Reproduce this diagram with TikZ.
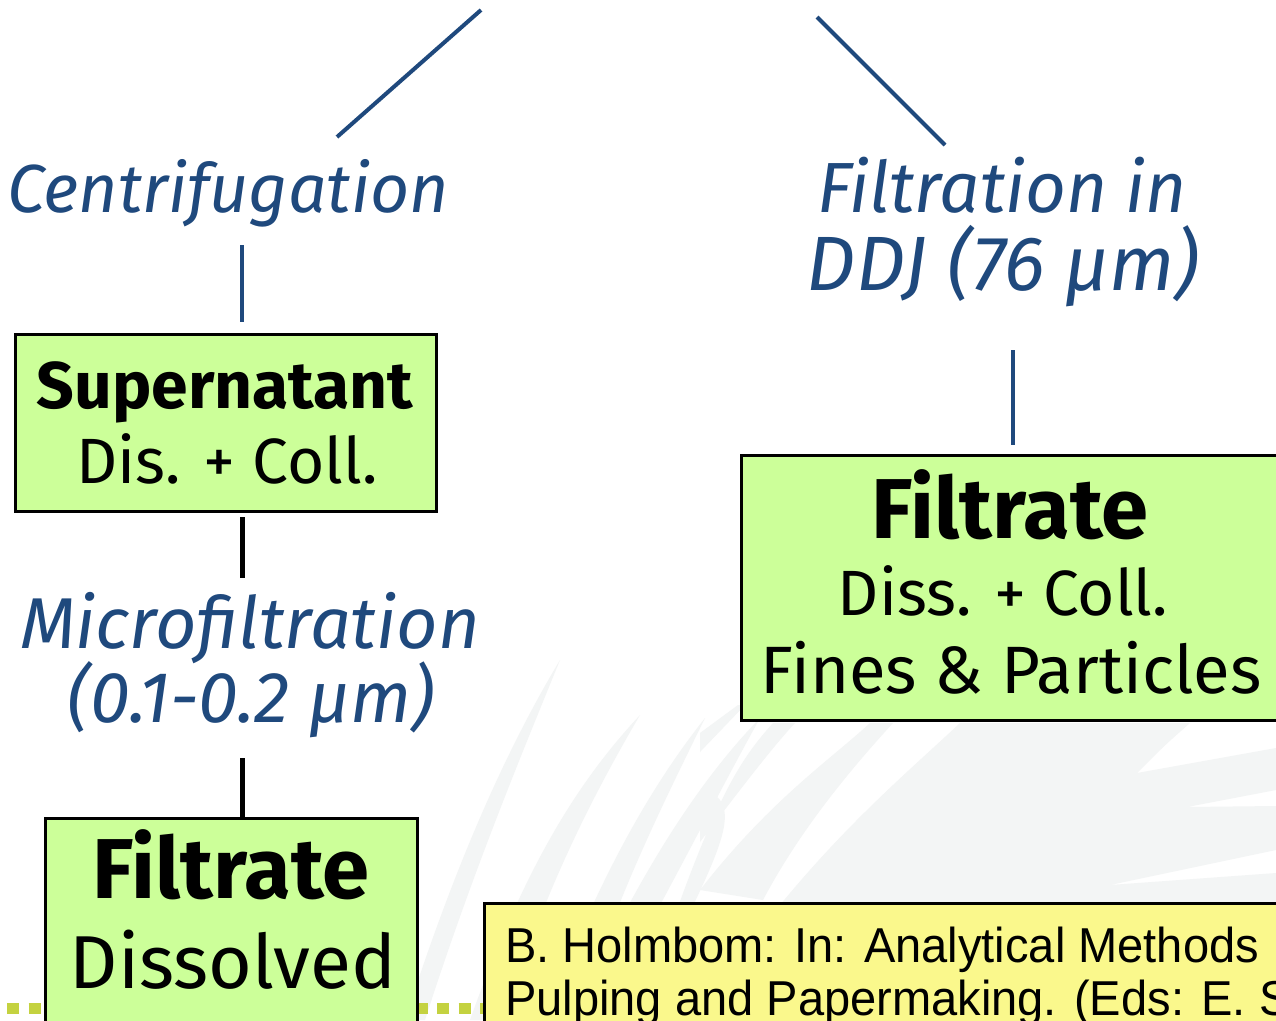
\documentclass[tikz,border=0pt]{standalone}
\usepackage{fontspec}
\setmainfont{Fira Sans}
\newfontfamily\reffont[FakeStretch=0.96]{Liberation Sans}
\definecolor{lblue}{RGB}{31,73,125}
\definecolor{boxgreen}{RGB}{204,255,153}
\definecolor{refyellow}{RGB}{250,248,140}
\definecolor{dotgreen}{RGB}{196,210,64}
\definecolor{bgblade}{RGB}{243,245,245}
\begin{document}
\begin{tikzpicture}[x=1pt,y=-1pt,
  conn/.style={line width=5pt, black},
  bconn/.style={line width=4pt, lblue},
  lbl/.style={font=\fontsize{68}{72}\selectfont\itshape, text=lblue, anchor=base, inner sep=0pt},
  boxg/.style={draw=black, line width=3pt, fill=boxgreen, inner sep=0pt},
  btext/.style={anchor=base, inner sep=0pt, font=\fontsize{64}{70}\selectfont},
  bbold/.style={anchor=base, inner sep=0pt, font=\fontsize{66}{70}\selectfont\bfseries},
  bbig/.style={anchor=base, inner sep=0pt, font=\fontsize{85}{90}\selectfont\bfseries},
  bmid/.style={anchor=base, inner sep=0pt, font=\fontsize{65}{70}\selectfont},
  blade/.style={fill=bgblade, draw=none}
]
\useasboundingbox (0,0) rectangle (1276,1020);
\clip (0,0) rectangle (1276,1020);
\fill[white] (0,0) rectangle (1276,1020);

% faint background blades
\path[blade] (405,1020) .. controls (450,880) and (500,760) .. (560,660)
  .. controls (515,770) and (470,880) .. (425,1020) -- cycle;
\path[blade] (470,1020) .. controls (520,880) and (570,790) .. (640,715)
  .. controls (590,800) and (540,900) .. (505,1020) -- cycle;
\path[blade] (545,1020) .. controls (590,900) and (640,800) .. (705,718)
  .. controls (660,810) and (610,910) .. (580,1020) -- cycle;
\path[blade] (600,960) .. controls (650,860) and (700,780) .. (760,718)
  .. controls (720,790) and (680,870) .. (630,960) -- cycle;
\path[blade] (640,1020) .. controls (700,880) and (760,800) .. (700,790)
  -- (700,842) .. controls (740,790) and (770,750) .. (795,723)
  -- (773,723) .. controls (740,760) and (710,800) .. (640,1020) -- cycle;
\path[blade] (700,733) -- (738,705) -- (745,705) -- (700,752) -- cycle;
\path[blade] (780,905) .. controls (850,820) and (910,770) .. (960,723)
  -- (1190,723) .. controls (1165,745) .. (1137,773)
  -- (1276,748) -- (1276,790) -- (1187,807) -- (1276,806) -- (1276,850)
  -- (1110,885) -- (1276,873) -- (1276,905) -- cycle;
\path[blade] (700,890) .. controls (770,800) and (830,760) .. (870,723)
  -- (893,723) .. controls (850,770) and (800,830) .. (763,900) -- cycle;

% dotted line
\draw[dotgreen, line width=11pt, dash pattern=on 12pt off 9.5pt] (7,1008) -- (484,1008);

% blue connectors from above
\coordinate (topL) at (481,10);
\coordinate (endL) at (337,137);
\coordinate (topR) at (817,17);
\coordinate (endR) at (945,145);
\draw[bconn] (topL) -- (endL);
\draw[bconn] (topR) -- (endR);

% left branch
\node[lbl] (centr) at (228,212) {Centrifugation};
\coordinate (c1a) at (242,245);
\coordinate (c1b) at (242,322);
\draw[bconn] (c1a) -- (c1b);

\node[boxg, minimum width=421pt, minimum height=177pt] (sup) at (225.5,422.5) {};
\node[bbold] (supt) at (225,408) {Supernatant};
\node[btext] (supd) at (227,483) {Dis. + Coll.};

\coordinate (c2a) at (242,517);
\coordinate (c2b) at (242,578);
\draw[conn] (c2a) -- (c2b);

\node[lbl, font=\fontsize{72}{76}\selectfont\itshape] (micro) at (250,648) {Microfiltration};
\node[lbl, font=\fontsize{72}{76}\selectfont\itshape] (microb) at (251,722) {(0.1-0.2 μm)};

\coordinate (c3a) at (242,758);
\coordinate (c3b) at (242,820);
\draw[conn] (c3a) -- (c3b);

\node[boxg, minimum width=372pt, minimum height=240pt] (filtL) at (231,938) {};
\node[bbig] (filtLt) at (231,898) {Filtrate};
\node[bmid, font=\fontsize{75}{80}\selectfont] (filtLd) at (233,988) {Dissolved};

% right branch
\node[lbl, font=\fontsize{71}{76}\selectfont\itshape] (ddj1) at (1002,212) {Filtration in};
\node[lbl, font=\fontsize{77}{82}\selectfont\itshape] (ddj2) at (1003,290) {DDJ (76 μm)};
\coordinate (c4a) at (1013,350);
\coordinate (c4b) at (1013,445);
\draw[bconn] (c4a) -- (c4b);

\node[boxg, minimum width=540pt, minimum height=265pt] (filtR) at (1011,587.5) {};
\node[bbig] (filtRt) at (1010,538) {Filtrate};
\node[bmid, font=\fontsize{64}{70}\selectfont] (filtRd) at (1003,615) {Diss. + Coll.};
\node[bmid, font=\fontsize{67}{70}\selectfont] (filtRf) at (1011,693) {Fines \& Particles};

% reference box
\node[draw=black, line width=3pt, fill=refyellow, minimum width=820pt, minimum height=160pt, inner sep=0pt] (ref) at (894,983) {};
\node[anchor=base west, inner sep=0pt, font=\fontsize{49}{52}\reffont] (ref1) at (505,962) {B. Holmbom: In: Analytical Methods};
\node[anchor=base west, inner sep=0pt, font=\fontsize{49}{52}\reffont] (ref2) at (505,1015) {Pulping and Papermaking. (Eds: E. S};
\end{tikzpicture}
\end{document}
